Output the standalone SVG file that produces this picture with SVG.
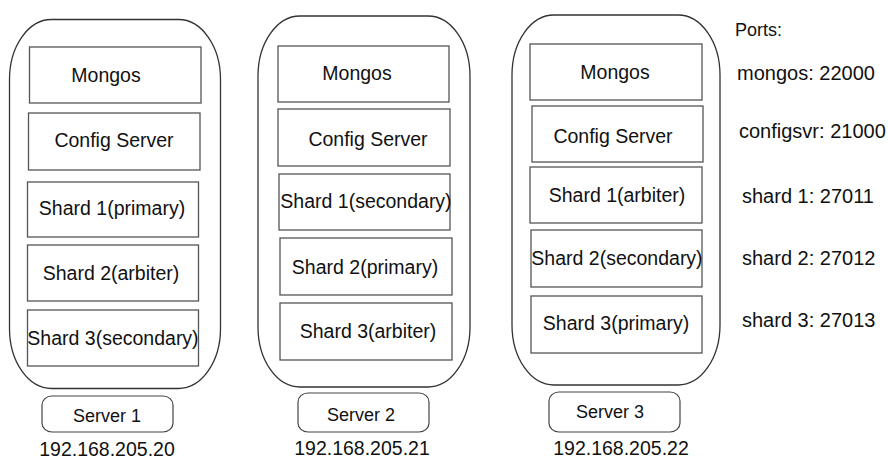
<svg xmlns="http://www.w3.org/2000/svg" width="888" height="461" viewBox="0 0 888 461">
<style>
.host{fill:#fff;stroke:#333;stroke-width:1.3}
.box{fill:#fff;stroke:#555;stroke-width:1.3}
.pill{fill:#fff;stroke:#444;stroke-width:1.2}
text{font-family:"Liberation Sans",Arial,Helvetica,sans-serif;fill:#111;font-size:19.5px}
.c{text-anchor:middle}
.lbl{font-size:18px}
.port{font-size:20px}
</style>
<rect width="888" height="461" fill="#fff"/>
<g id="server1">
<rect class="host" x="9.5" y="19.5" width="211" height="369" rx="42" ry="60"/>
<g id="s1-mongos"><rect class="box" x="29.5" y="47" width="171.5" height="56"/><text class="c" x="106" y="82">Mongos</text></g>
<g id="s1-config"><rect class="box" x="28.5" y="113" width="171.5" height="57"/><text class="c" x="114" y="147">Config Server</text></g>
<g id="s1-shard1"><rect class="box" x="27.5" y="182" width="171" height="55"/><text class="c" x="112" y="215">Shard 1(primary)</text></g>
<g id="s1-shard2"><rect class="box" x="27.5" y="245" width="171" height="56"/><text class="c" x="111" y="280">Shard 2(arbiter)</text></g>
<g id="s1-shard3"><rect class="box" x="27.5" y="310" width="171" height="56"/><text class="c" x="113" y="345">Shard 3(secondary)</text></g>
</g>
<g id="server1-label"><rect class="pill" x="42" y="396" width="131" height="36" rx="10" ry="9"/><text class="c lbl" x="107" y="422">Server 1</text></g>
<text id="ip1" class="c" x="107" y="456">192.168.205.20</text>

<g id="server2">
<rect class="host" x="258" y="16" width="212" height="371" rx="42" ry="60"/>
<g id="s2-mongos"><rect class="box" x="278" y="46" width="171" height="56"/><text class="c" x="357" y="80">Mongos</text></g>
<g id="s2-config"><rect class="box" x="278" y="109" width="172" height="57"/><text class="c" x="368" y="146">Config Server</text></g>
<g id="s2-shard1"><rect class="box" x="279" y="174" width="171" height="56"/><text class="c" x="366" y="208">Shard 1(secondary)</text></g>
<g id="s2-shard2"><rect class="box" x="280" y="238" width="172" height="57"/><text class="c" x="365" y="274">Shard 2(primary)</text></g>
<g id="s2-shard3"><rect class="box" x="280" y="303" width="172" height="57"/><text class="c" x="368" y="338">Shard 3(arbiter)</text></g>
</g>
<g id="server2-label"><rect class="pill" x="298" y="393" width="131" height="39" rx="10" ry="9"/><text class="c lbl" x="361" y="421">Server 2</text></g>
<text id="ip2" class="c" x="362" y="455">192.168.205.21</text>

<g id="server3">
<rect class="host" x="512" y="15" width="208" height="370" rx="42" ry="60"/>
<g id="s3-mongos"><rect class="box" x="530" y="44" width="172" height="56"/><text class="c" x="615" y="79">Mongos</text></g>
<g id="s3-config"><rect class="box" x="532" y="106" width="171" height="56"/><text class="c" x="613" y="143">Config Server</text></g>
<g id="s3-shard1"><rect class="box" x="530" y="167" width="172" height="56"/><text class="c" x="617" y="202">Shard 1(arbiter)</text></g>
<g id="s3-shard2"><rect class="box" x="531" y="230" width="171" height="57"/><text class="c" x="617" y="265">Shard 2(secondary)</text></g>
<g id="s3-shard3"><rect class="box" x="531" y="296" width="171" height="57"/><text class="c" x="616" y="330">Shard 3(primary)</text></g>
</g>
<g id="server3-label"><rect class="pill" x="549" y="392" width="131" height="40" rx="10" ry="9"/><text class="c lbl" x="610" y="418">Server 3</text></g>
<text id="ip3" class="c" x="621" y="455">192.168.205.22</text>

<g id="ports">
<text class="lbl" x="735" y="36">Ports:</text>
<text class="port" x="737" y="80">mongos: 22000</text>
<text class="port" x="739" y="138">configsvr: 21000</text>
<text class="port" x="742" y="203">shard 1: 27011</text>
<text class="port" x="742" y="265">shard 2: 27012</text>
<text class="port" x="742" y="327">shard 3: 27013</text>
</g>
<g id="connectors"/>
</svg>
